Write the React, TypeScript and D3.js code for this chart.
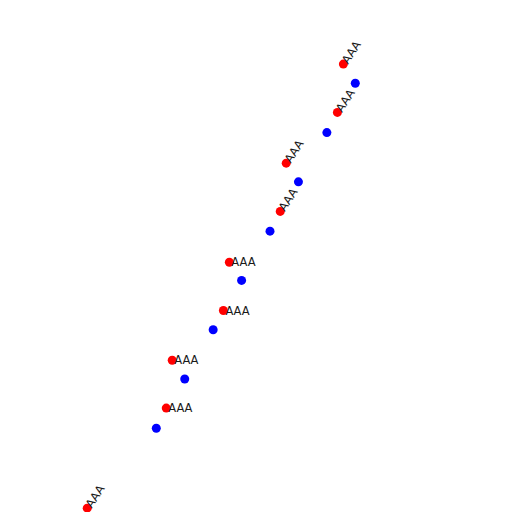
import { useEffect, useRef } from 'react'
import * as d3 from 'd3'

// blue markers sit on a diagonal, red markers carry the labels
const blueX = [0, 1, 2, 3, 4, 5, 6, 7]
const blueY = [0, 1, 2, 3, 4, 5, 6, 7]
const redX = [-2.43, 0.35, 0.56, 2.36, 2.57, 4.36, 4.57, 6.37, 6.58]
const redY = [-1.62, 0.41, 1.38, 2.39, 3.37, 4.4, 5.38, 6.41, 7.39]
const labels = ['AAA', 'AAA', 'AAA', 'AAA', 'AAA', 'AAA', 'AAA', 'AAA', 'AAA']
const rotations = [57, 0, 0, 0, 0, 57, 57, 57, 57]

export default function App() {
  const svgRef = useRef<SVGSVGElement | null>(null)

  useEffect(() => {
    const svg = d3.select(svgRef.current)
    svg.selectAll('*').remove()

    const x = d3.scaleLinear().domain([0, 7]).range([156.3, 355.3])
    const y = d3.scaleLinear().domain([0, 7]).range([428.3, 83.3])

    const blue = blueX.map((v, i) => ({ x: v, y: blueY[i] }))
    const red = redX.map((v, i) => ({ x: v, y: redY[i], label: labels[i], rot: rotations[i] }))

    svg.append('g')
      .selectAll('circle')
      .data(blue)
      .join('circle')
      .attr('cx', d => x(d.x))
      .attr('cy', d => y(d.y))
      .attr('r', 4.5)
      .attr('fill', '#0000ff')

    svg.append('g')
      .selectAll('circle')
      .data(red)
      .join('circle')
      .attr('cx', d => x(d.x))
      .attr('cy', d => y(d.y))
      .attr('r', 4.5)
      .attr('fill', '#ff0000')

    svg.append('g')
      .selectAll('text')
      .data(red)
      .join('text')
      .attr('transform', d => `translate(${x(d.x)},${y(d.y)}) rotate(${-d.rot})`)
      .attr('x', 2)
      .attr('y', 4.2)
      .attr('font-family', 'DejaVu Sans')
      .attr('font-size', 11.5)
      .attr('fill', '#1a1a1a')
      .text(d => d.label)
  }, [])

  return (
    <svg
      ref={svgRef}
      width={512}
      height={512}
      style={{ position: 'absolute', left: 0, top: 0, display: 'block', background: '#fff' }}
    />
  )
}
